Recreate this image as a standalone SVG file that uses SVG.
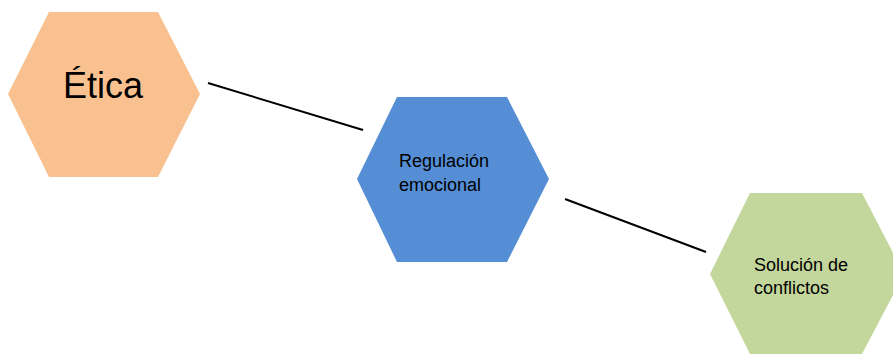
<svg xmlns="http://www.w3.org/2000/svg" width="893" height="356" viewBox="0 0 893 356">
<style>
.t{font-family:"Liberation Sans",Arial,sans-serif;fill:#000}
.c{stroke:#000;stroke-width:2;fill:none}
</style>
<rect width="893" height="356" fill="#fff"/>
<g id="connectors">
<line class="c" x1="208" y1="83" x2="363" y2="130"/>
<line class="c" x1="565" y1="199" x2="706" y2="252"/>
</g>
<g id="etica">
<polygon points="49,12 158,12 200,94 158,177 49,177 8,94" fill="#FAC190"/>
<text class="t" x="63" y="98" font-size="36">Ética</text>
</g>
<g id="regulacion">
<polygon points="397,97 507,97 549,179 507,262 397,262 357,179" fill="#558ED5"/>
<text class="t" font-size="18"><tspan x="399" y="167">Regulación</tspan><tspan x="399" y="191">emocional</tspan></text>
</g>
<g id="solucion">
<polygon points="750,193 862,193 904,274 862,354 750,354 710,274" fill="#C3D69B"/>
<text class="t" font-size="18"><tspan x="754" y="271">Solución de</tspan><tspan x="754" y="294">conflictos</tspan></text>
</g>
</svg>
